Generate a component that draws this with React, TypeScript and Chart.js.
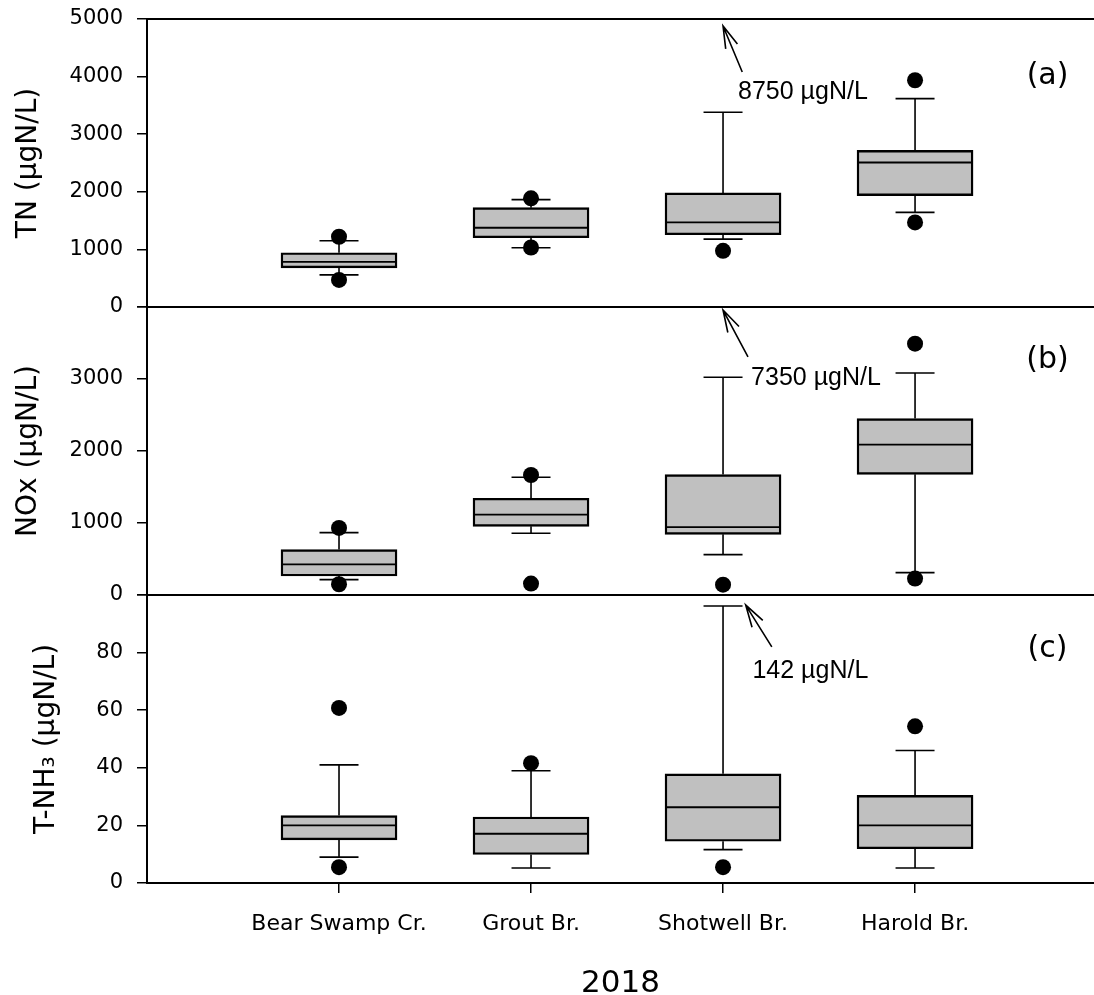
import { useEffect, useRef } from 'react';
import { Chart, registerables } from 'chart.js';

Chart.register(...registerables);

// ---------- data ----------
const CATEGORIES = ['Bear Swamp Cr.', 'Grout Br.', 'Shotwell Br.', 'Harold Br.'];
const X_TITLE = '2018';

// (a) TN, µgN/L
const TN_TICKS = [0, 1000, 2000, 3000, 4000, 5000];
const TN_Q1 = [680, 1202, 1254, 1934];
const TN_MEDIAN = [784, 1376, 1469, 2509];
const TN_Q3 = [941, 1725, 1981, 2718];
const TN_WHISKER_LOW = [557, 1028, 1179, 1643];
const TN_WHISKER_HIGH = [1150, 1864, 3380, 3618];
const TN_OUT_LOW = [470, 1033, 976, 1469];
const TN_OUT_HIGH = [1220, 1887, null, 3937];

// (b) NOx, µgN/L
const NOX_TICKS = [0, 1000, 2000, 3000, 4000];
const NOX_Q1 = [264, 954, 843, 1676];
const NOX_MEDIAN = [426, 1117, 944, 2089];
const NOX_Q3 = [631, 1343, 1672, 2450];
const NOX_WHISKER_LOW = [214, 857, 561, 311];
const NOX_WHISKER_HIGH = [867, 1635, 3024, 3083];
const NOX_OUT_LOW = [149, 158, 144, 228];
const NOX_OUT_HIGH = [931, 1667, null, 3491];

// (c) T-NH3, µgN/L
const NH3_TICKS = [0, 20, 40, 60, 80, 100];
const NH3_Q1 = [15.0, 9.9, 14.5, 11.9];
const NH3_MEDIAN = [20.0, 17.1, 26.3, 20.0];
const NH3_Q3 = [23.4, 22.9, 37.9, 30.4];
const NH3_WHISKER_LOW = [9.0, 5.2, 11.6, 5.2];
const NH3_WHISKER_HIGH = [41.0, 39.0, 96.2, 46.0];
const NH3_OUT_LOW = [5.5, null, 5.5, null];
const NH3_OUT_HIGH = [60.8, 41.6, null, 54.4];

// off-scale maxima noted with arrows
const TN_NOTE = '8750 µgN/L';
const NOX_NOTE = '7350 µgN/L';
const NH3_NOTE = '142 µgN/L';

// ---------- styling / layout ----------
const W = 1094;
const H = 995;
const PLOT_LEFT = 147;
const X_MIN = -1;
const X_MAX = 3.932;
const BOX_PX = 116;
const CAP_HALF = 19.5;
const TICK_FONT = { family: '"DejaVu Sans", sans-serif', size: 21 };
const CAT_FONT = { family: '"DejaVu Sans", sans-serif', size: 22 };
const TITLE_FONT = '28px "DejaVu Sans", sans-serif';
const NOTE_FONT = '25px "Liberation Sans", Arial, sans-serif';
const TAG_FONT = '30px "DejaVu Sans", sans-serif';
const X_TITLE_FONT = '31px "DejaVu Sans", sans-serif';
const BOX_FILL = '#c0c0c0';

type Pt = [number, number];
type Panel = {
  key: string;
  title: string;
  titleX: number;
  ticks: number[];
  hideTopLabel: boolean;
  top: number;
  bottom: number;
  showX: boolean;
  q1: number[];
  med: number[];
  q3: number[];
  wlo: number[];
  whi: number[];
  outLo: (number | null)[];
  outHi: (number | null)[];
  note: string;
  tip: Pt;
  tail: Pt;
  noteAt: Pt;
  tag: string;
  tagAt: Pt;
};

const PANELS: Panel[] = [
  {
    key: 'a', title: 'TN (µgN/L)', titleX: 29, ticks: TN_TICKS, hideTopLabel: false,
    top: 19, bottom: 307, showX: false,
    q1: TN_Q1, med: TN_MEDIAN, q3: TN_Q3, wlo: TN_WHISKER_LOW, whi: TN_WHISKER_HIGH,
    outLo: TN_OUT_LOW, outHi: TN_OUT_HIGH,
    note: TN_NOTE, tip: [2, 4878], tail: [2.1, 4080], noteAt: [2.078, 3611],
    tag: '(a)', tagAt: [3.69, 4010],
  },
  {
    key: 'b', title: 'NOx (µgN/L)', titleX: 29, ticks: NOX_TICKS, hideTopLabel: true,
    top: 307, bottom: 595, showX: false,
    q1: NOX_Q1, med: NOX_MEDIAN, q3: NOX_Q3, wlo: NOX_WHISKER_LOW, whi: NOX_WHISKER_HIGH,
    outLo: NOX_OUT_LOW, outHi: NOX_OUT_HIGH,
    note: NOX_NOTE, tip: [2, 3958], tail: [2.13, 3306], noteAt: [2.146, 2917],
    tag: '(b)', tagAt: [3.69, 3264],
  },
  {
    key: 'c', title: 'T-NH₃ (µgN/L)', titleX: 47, ticks: NH3_TICKS, hideTopLabel: true,
    top: 595, bottom: 883, showX: true,
    q1: NH3_Q1, med: NH3_MEDIAN, q3: NH3_Q3, wlo: NH3_WHISKER_LOW, whi: NH3_WHISKER_HIGH,
    outLo: NH3_OUT_LOW, outHi: NH3_OUT_HIGH,
    note: NH3_NOTE, tip: [2.118, 96.5], tail: [2.254, 82.0], noteAt: [2.153, 71.1],
    tag: '(c)', tagAt: [3.69, 81.1],
  },
];

function makePlugin(p: Panel) {
  return {
    id: 'boxPanel_' + p.key,
    beforeDatasetsDraw(chart: any) {
      const { ctx } = chart;
      const xs = chart.scales.x;
      const ys = chart.scales.y;
      ctx.save();
      ctx.strokeStyle = '#000';
      ctx.lineWidth = 1.6;
      p.q1.forEach((_, i) => {
        const cx = xs.getPixelForValue(i);
        const yQ1 = ys.getPixelForValue(p.q1[i]);
        const yQ3 = ys.getPixelForValue(p.q3[i]);
        const yLo = ys.getPixelForValue(p.wlo[i]);
        const yHi = ys.getPixelForValue(p.whi[i]);
        ctx.beginPath();
        ctx.moveTo(cx, yQ1);
        ctx.lineTo(cx, yLo);
        ctx.moveTo(cx - CAP_HALF, yLo);
        ctx.lineTo(cx + CAP_HALF, yLo);
        ctx.moveTo(cx, yQ3);
        ctx.lineTo(cx, yHi);
        ctx.moveTo(cx - CAP_HALF, yHi);
        ctx.lineTo(cx + CAP_HALF, yHi);
        ctx.stroke();
      });
      ctx.restore();
    },
    afterDatasetsDraw(chart: any) {
      const { ctx, chartArea } = chart;
      const xs = chart.scales.x;
      const ys = chart.scales.y;
      ctx.save();
      ctx.strokeStyle = '#000';
      ctx.fillStyle = '#000';
      // medians
      ctx.lineWidth = 1.8;
      p.med.forEach((m, i) => {
        const cx = xs.getPixelForValue(i);
        const y = ys.getPixelForValue(m);
        ctx.beginPath();
        ctx.moveTo(cx - BOX_PX / 2 + 1, y);
        ctx.lineTo(cx + BOX_PX / 2 - 1, y);
        ctx.stroke();
      });
      // panel top frame line
      ctx.lineWidth = 2;
      ctx.beginPath();
      ctx.moveTo(chartArea.left, chartArea.top);
      ctx.lineTo(chartArea.right, chartArea.top);
      ctx.stroke();
      // arrow to off-scale maximum
      const tx = xs.getPixelForValue(p.tip[0]);
      const ty = ys.getPixelForValue(p.tip[1]);
      const lx = xs.getPixelForValue(p.tail[0]);
      const ly = ys.getPixelForValue(p.tail[1]);
      const ang = Math.atan2(ly - ty, lx - tx);
      const headLen = 23;
      const headAng = (16 * Math.PI) / 180;
      ctx.lineWidth = 1.6;
      ctx.beginPath();
      ctx.moveTo(lx, ly);
      ctx.lineTo(tx, ty);
      ctx.moveTo(tx + headLen * Math.cos(ang + headAng), ty + headLen * Math.sin(ang + headAng));
      ctx.lineTo(tx, ty);
      ctx.lineTo(tx + headLen * Math.cos(ang - headAng), ty + headLen * Math.sin(ang - headAng));
      ctx.stroke();
      ctx.font = NOTE_FONT;
      ctx.textAlign = 'left';
      ctx.textBaseline = 'alphabetic';
      ctx.fillText(p.note, xs.getPixelForValue(p.noteAt[0]), ys.getPixelForValue(p.noteAt[1]));
      // panel tag
      ctx.font = TAG_FONT;
      ctx.textAlign = 'center';
      ctx.textBaseline = 'middle';
      ctx.fillText(p.tag, xs.getPixelForValue(p.tagAt[0]), ys.getPixelForValue(p.tagAt[1]));
      // y title
      ctx.save();
      ctx.translate(p.titleX, (chartArea.top + chartArea.bottom) / 2);
      ctx.rotate(-Math.PI / 2);
      ctx.font = TITLE_FONT;
      ctx.textAlign = 'center';
      ctx.textBaseline = 'middle';
      ctx.fillText(p.title, 0, 0);
      ctx.restore();
      // x title
      if (p.showX) {
        ctx.font = X_TITLE_FONT;
        ctx.textAlign = 'center';
        ctx.textBaseline = 'alphabetic';
        ctx.fillText(X_TITLE, (chartArea.left + chartArea.right) / 2, H - 3);
      }
      ctx.restore();
    },
  };
}

function makeConfig(p: Panel): any {
  const boxes = p.q1.map((v, i) => ({ x: i, y: [v, p.q3[i]] }));
  const outliers: { x: number; y: number }[] = [];
  p.outLo.forEach((v, i) => { if (v !== null) outliers.push({ x: i, y: v }); });
  p.outHi.forEach((v, i) => { if (v !== null) outliers.push({ x: i, y: v }); });
  const yMax = p.ticks[p.ticks.length - 1];
  const xScale: any = {
    type: 'linear',
    min: X_MIN,
    max: X_MAX,
    offset: false,
    display: p.showX,
    afterBuildTicks: (s: any) => { s.ticks = CATEGORIES.map((_, i) => ({ value: i })); },
    afterFit: (s: any) => {
      if (p.showX) s.height = H - p.bottom;
      s.paddingLeft = 0;
      s.paddingRight = 0;
    },
    ticks: {
      callback: (v: any) => CATEGORIES[v] ?? '',
      font: CAT_FONT,
      color: '#000',
      padding: 18,
      maxRotation: 0,
      minRotation: 0,
      autoSkip: false,
      includeBounds: false,
    },
    grid: { offset: false, drawOnChartArea: false, tickLength: 10, color: '#000', lineWidth: 1.5 },
    border: { display: true, color: '#000', width: 2 },
  };
  return {
    type: 'bar',
    data: {
      datasets: [
        {
          type: 'bar',
          data: boxes,
          backgroundColor: BOX_FILL,
          borderColor: '#000',
          borderWidth: 2.4,
          borderSkipped: false,
          barThickness: BOX_PX,
        },
        {
          type: 'scatter',
          data: outliers,
          pointRadius: 8,
          pointHoverRadius: 8,
          backgroundColor: '#000',
          borderWidth: 0,
        },
      ],
    },
    options: {
      animation: false,
      responsive: false,
      devicePixelRatio: 1,
      events: [],
      layout: {
        autoPadding: false,
        padding: { top: p.top, bottom: p.showX ? 0 : H - p.bottom, left: 0, right: 0 },
      },
      plugins: { legend: { display: false }, tooltip: { enabled: false } },
      scales: {
        x: xScale,
        y: {
          type: 'linear',
          min: p.ticks[0],
          max: yMax,
          afterFit: (s: any) => {
            s.width = PLOT_LEFT;
            s.paddingTop = 0;
            s.paddingBottom = 0;
          },
          afterBuildTicks: (s: any) => { s.ticks = p.ticks.map((v) => ({ value: v })); },
          ticks: {
            callback: (v: any) => (p.hideTopLabel && v === yMax ? '' : String(v)),
            font: TICK_FONT,
            color: '#000',
            padding: 14,
            autoSkip: false,
          },
          grid: { drawOnChartArea: false, tickLength: 10, color: '#000', lineWidth: 1.5 },
          border: { display: true, color: '#000', width: 2 },
        },
      },
    },
    plugins: [makePlugin(p)],
  };
}

export default function App() {
  const refA = useRef<HTMLCanvasElement | null>(null);
  const refB = useRef<HTMLCanvasElement | null>(null);
  const refC = useRef<HTMLCanvasElement | null>(null);

  useEffect(() => {
    const refs = [refA, refB, refC];
    const charts = PANELS.map((p, i) => new Chart(refs[i].current as HTMLCanvasElement, makeConfig(p)));
    return () => charts.forEach((c) => c.destroy());
  }, []);

  const style: any = { position: 'absolute', left: 0, top: 0, width: W, height: H };
  return (
    <div style={{ position: 'fixed', left: 0, top: 0, width: W, height: H, background: '#fff' }}>
      <canvas ref={refA} width={W} height={H} style={style} />
      <canvas ref={refB} width={W} height={H} style={style} />
      <canvas ref={refC} width={W} height={H} style={style} />
    </div>
  );
}
